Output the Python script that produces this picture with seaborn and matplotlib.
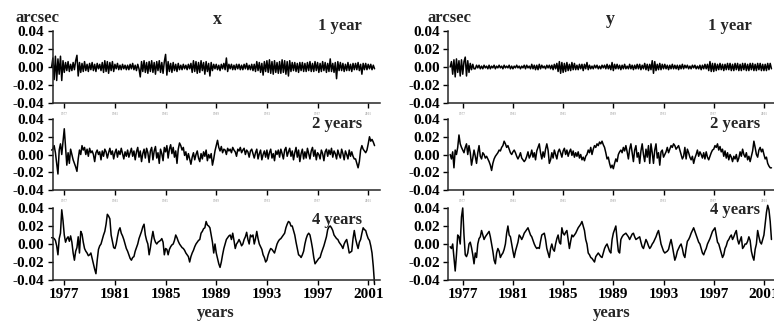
import numpy as np
import pandas as pd
import seaborn as sns
import matplotlib
matplotlib.use("Agg")
import matplotlib.pyplot as plt
from matplotlib.ticker import FixedLocator, FixedFormatter

# Residual pole-coordinate series (milliarcseconds), sampled 10 times per year from 1976.0
START_EPOCH = 1976.0
SAMPLES_PER_YEAR = 10
MAS_TO_ARCSEC = 1e-3

x_1yr = [
    0, 10, -14, 12, -15, 9, -8, 12, -15, 7,
    -6, 5, -4, 6, -5, 3, -4, 5, -3, 7,
    13, -10, 5, -6, 4, -5, 6, -4, 3, -5,
    4, -3, 5, -4, 3, -5, 4, -2, 3, -4,
    5, -6, 7, -5, 6, -7, 5, -4, 6, -5,
    3, -2, 4, -3, 2, -3, 3, -2, 2, -3,
    2, -3, 3, -2, 4, -3, 2, -4, 3, -2,
    -11, 6, -5, 7, -6, 5, -7, 6, -5, 7,
    -6, 5, -8, 6, -4, 7, -6, 5, -7, 6,
    14, -9, 6, -5, 4, -6, 5, -4, 3, -5,
    4, -3, 2, -3, 3, -2, 2, -3, 3, -2,
    4, -6, 7, -5, 6, -7, 5, -6, 7, -4,
    5, -8, 6, -5, 4, -10, 5, -4, 3, -2,
    3, -3, 2, -4, 3, -2, 4, -3, 10, -5,
    3, -2, 3, -3, 2, -3, 3, -2, 3, -3,
    2, -3, 3, -2, 4, -3, 2, -3, 3, -4,
    3, -5, 6, -4, 5, -6, 4, -9, 6, -5,
    7, -6, 8, -7, 6, -8, 7, -6, 5, -7,
    6, -7, 8, -6, 7, -8, 6, -10, 7, -5,
    5, -4, 5, -5, 4, -6, 5, -4, 5, -5,
    4, -5, 5, -4, 6, -5, 4, -5, 6, -4,
    5, -6, 4, -5, 6, -4, 5, -6, 4, -5,
    9, -5, 4, -6, 5, -13, 6, -4, 5, -4,
    4, -5, 3, -4, 5, -4, 3, -5, 4, -3,
    4, -3, 5, -4, 3, -8, 4, -3, 4, -3,
    3, -2, 3, -3, 2, -2,
]

x_2yr = [
    5, 6, 10, 2, -10, -22, 5, 12, 0, 15,
    29, 8, -12, 2, -10, 6, 0, -6, -10, -14,
    -19, -5, 5, 0, 10, 5, 8, 0, 6, -2,
    7, 2, 4, 0, -8, 2, 5, 0, 3, -6,
    4, -2, 6, 3, -4, 2, 7, 0, 4, -5,
    2, 6, -3, 4, 0, 7, 1, -5, 3, -2,
    5, -3, 2, 7, -2, 4, -6, 3, 8, -3,
    4, -8, 1, 6, -4, 7, 2, -9, 4, 8,
    -6, 4, 9, -4, 2, -10, 6, 1, -7, 8,
    3, 10, -4, 6, 11, 1, 8, -3, 4, -10,
    6, 13, 10, 5, 8, -1, 3, -6, 1, -5,
    -11, -3, 2, -6, 0, 4, -4, -8, 1, -5,
    3, -2, 5, -7, 0, -4, 1, -12, -5, 4,
    10, 16, 8, 4, 9, 2, 6, 5, 0, 7,
    4, 6, 2, 8, 5, 3, -2, 6, 4, 8,
    2, 5, 7, 0, 5, 3, -3, 4, 6, 1,
    -4, 2, 6, -5, 1, 5, -6, 0, 4, -3,
    5, -5, 2, 6, -4, 1, -7, 4, 0, 5,
    -3, 6, 1, -5, 5, 8, -2, 3, 7, -2,
    4, -6, 2, 8, -3, 5, -8, 1, 6, -5,
    3, -4, 7, 1, -5, 4, 8, -2, 5, -6,
    2, 0, -5, 5, 1, -7, 3, 6, -2, 5,
    0, 7, -3, 4, 1, -5, 5, 0, -4, 6,
    1, -6, 4, 0, -5, 5, -2, 3, -2, -5,
    -5, -10, -15, -8, 5, 10, 6, 4, 2, 5,
    12, 20, 15, 17, 14, 10,
]

x_4yr = [
    7, 7, 6, 4, -2, -12, 6, 12, 38, 26,
    10, 2, 6, 8, 3, 9, 2, -10, -18, -8,
    -4, 8, -10, 14, 11, 2, -5, -8, -10, -13,
    -12, -10, -16, -22, -28, -33, -18, -6, -2, 0,
    5, 10, 14, 22, 33, 31, 28, 10, 3, -4,
    -5, 0, 8, 15, 18, 12, 9, 5, 0, -5,
    -8, -12, -16, -18, -15, -14, -8, -4, 0, 6,
    10, 14, 19, 22, 10, 4, 0, -12, -4, 6,
    14, 6, 2, 0, 2, 3, 4, 6, 2, -12,
    -5, -6, -12, -6, -3, -1, 0, 4, 10, 7,
    3, 0, -2, -4, -5, -7, -10, -12, -14, -20,
    -14, -10, -7, -3, 0, 2, 4, 5, 12, 14,
    17, 18, 25, 21, 20, 18, 10, 2, -10, 0,
    -10, -16, -22, -26, -20, -12, -5, 0, 5, 7,
    9, 10, 5, 12, 4, -5, 0, 2, 5, 2,
    -2, 0, 5, 8, 13, 5, 0, 10, 8, 10,
    0, 6, 14, 6, 0, -3, -6, -12, -15, -20,
    -18, -12, -8, -5, -6, -8, -10, -5, 0, 3,
    5, 6, 8, 10, 12, 18, 22, 25, 24, 20,
    20, 15, 10, 2, -5, -12, -13, -15, -12, -8,
    0, 6, 10, 12, 10, 3, -5, -15, -22, -20,
    -18, -16, -15, -10, -6, -2, 3, 8, 16, 19,
    20, 18, 15, 10, 8, 6, 5, 2, 0, -2,
    -5, 0, 3, 5, -2, -10, -9, -8, 6, 15,
    6, 0, -5, 2, 5, 12, 18, 16, 15, 10,
    6, 4, -2, -10, -25, -45,
]

y_1yr = [
    0, 6, -8, 8, -11, 9, -6, 7, -10, 8,
    -8, 6, 11, -10, 7, -6, 4, -3, 3, -2,
    -2, 2, -1, 2, -2, 1, -2, 2, -1, 1,
    -2, 2, -2, 1, -1, 2, -2, 1, -1, 2,
    -1, 1, -2, 2, -1, 1, -1, 2, -2, 1,
    -2, 1, -1, 2, -1, 1, -2, 1, -1, 2,
    -2, 2, -1, 1, -2, 3, -2, 2, -3, 2,
    -3, 3, -2, 2, -1, 1, -2, 2, -1, 2,
    -2, 2, -3, 3, -2, 4, -5, 6, -7, 5,
    -6, 4, -5, 5, -4, 3, -4, 5, -3, 4,
    -3, 2, -3, 3, -2, 3, -4, 3, -2, 5,
    -3, 2, -2, 1, -2, 2, -1, 2, -2, 1,
    -2, 2, -1, 2, -2, 3, -2, 2, -3, 5,
    -4, 3, -2, 3, -2, 2, -3, 2, -2, 3,
    -2, 1, -2, 3, -2, 2, -3, 2, -2, 3,
    -2, 3, -3, 2, -2, 4, -3, 3, -4, 3,
    -3, 7, -7, 6, -4, 3, -3, 4, -3, 3,
    -2, 3, -2, 2, -3, 2, -2, 3, -2, 2,
    -2, 2, -3, 2, -2, 3, -2, 2, -1, 2,
    -2, 1, -2, 2, -1, 2, -2, 1, -2, 2,
    -3, 2, -2, 3, -2, 3, -4, 6, -5, 4,
    -5, 4, -4, 3, -3, 4, -3, 3, -4, 3,
    -3, 4, -3, 4, -4, 3, -4, 4, -3, 4,
    -4, 3, -4, 4, -3, 4, -4, 3, -4, 4,
    -3, 4, -4, 3, -4, 4, -3, 4, -4, 3,
    -4, 3, -4, 4, -3, 4, -2,
]

y_2yr = [
    0, -5, 3, -15, 5, 0, 8, 22, 12, 8,
    5, 2, 8, 12, 0, 10, 2, -12, -4, 5,
    -2, -10, 2, 10, -2, -5, 2, 0, -4, -2,
    -5, -8, -12, -18, -10, -5, -2, 0, 2, 5,
    4, 8, 10, 15, 12, 8, 10, 6, 2, 0,
    3, 5, 2, -2, -5, -2, 2, -4, -6, -8,
    -6, -2, 3, -4, -1, 5, -3, 2, -6, 4,
    8, 12, 2, -5, 3, -3, 6, 12, 5, -10,
    -6, 2, -4, 5, 0, -5, 3, 6, 2, -3,
    4, 7, 0, 5, -2, 3, 6, -1, 4, -3,
    2, -2, 3, -4, 0, -6, -3, -7, -2, 0,
    5, 2, 8, 0, 6, 10, 8, 12, 10, 14,
    12, 15, 11, 8, 2, -5, -3, -10, -15, -12,
    -16, -10, -5, -8, 0, 3, 5, 2, 8, 4,
    10, 3, -5, 6, 12, 2, -8, 5, 10, -3,
    2, -10, 4, 12, 0, -8, 6, -3, 10, -10,
    12, 2, -10, 5, 12, -4, 2, -12, 3, 5,
    -3, 0, 3, 8, 2, 6, 10, 8, 12, 10,
    6, 8, 10, 5, 0, -5, -2, 8, -5, 6,
    2, -3, -6, -2, -10, -4, 0, 5, -2, 3,
    0, -4, 2, -5, 3, -3, -6, -2, 2, 5,
    6, 10, 8, 12, 5, 9, 3, 6, -2, 4,
    -4, 2, -6, 0, -3, -8, -2, -5, 0, -8,
    -4, 3, -2, 6, 0, -3, 2, -6, -2, -8,
    -2, 4, 15, 8, 0, -3, 5, 8, 3, 6,
    0, -5, -3, -10, -13, -15, -15,
]

y_4yr = [
    -3, -5, 0, -15, -30, -12, 10, 8, 0, 30,
    40, 10, -12, -14, -10, 0, 2, -4, -12, -22,
    -10, -15, 0, 6, 8, 15, 10, 5, 8, 10,
    12, 14, 8, 0, -8, -18, -22, -10, -5, -8,
    -15, -12, -10, -6, 0, 12, 20, 10, 8, 0,
    -8, -15, -8, -3, 2, 10, 8, 5, 8, 12,
    14, 16, 18, 14, 10, 8, 4, 0, -3, -5,
    -4, -5, 3, 10, 11, 12, 5, -5, -10, -15,
    -5, 0, -6, -8, 0, 6, 10, 2, 0, 18,
    12, 10, 13, 15, 5, -5, 3, 10, 8, 10,
    12, 15, 18, 20, 22, 25, 20, 15, 5, 0,
    -10, -12, -15, -16, -18, -20, -14, -12, -10, -12,
    -14, -15, -10, -5, -2, 0, -4, -8, -10, 5,
    12, 16, 20, 5, -8, -10, 5, 8, 10, 11,
    12, 10, 8, 5, 8, 11, 12, 8, 5, 6,
    7, 8, 2, -3, -5, 0, 5, 2, -2, -5,
    -3, 0, 2, 5, 8, 12, 15, 8, 0, -4,
    -8, -10, -9, -8, -6, 0, 5, -2, -10, -18,
    -14, -8, -5, -2, 0, -5, -12, -15, -5, 3,
    5, 8, 12, 15, 18, 14, 10, 6, 2, 0,
    -5, -10, -12, -8, -5, 0, 3, 6, 10, 14,
    16, 18, 10, 2, 0, -5, -10, -15, -12, -5,
    -2, 3, 5, 8, 10, 5, 8, 12, 15, 5,
    0, 4, 8, -5, -3, 0, 0, 3, 8, 4,
    -8, -14, -18, -6, 0, 15, 8, 2, 0, 5,
    10, 22, 35, 43, 38, 25, 5,
]

components = ["x", "y"]
bands = ["1 year", "2 years", "4 years"]
series = {
    ("x", "1 year"): x_1yr, ("x", "2 years"): x_2yr, ("x", "4 years"): x_4yr,
    ("y", "1 year"): y_1yr, ("y", "2 years"): y_2yr, ("y", "4 years"): y_4yr,
}

year_ticks = [1977, 1981, 1985, 1989, 1993, 1997, 2001]
value_ticks = [-0.04, -0.02, 0.00, 0.02, 0.04]
value_tick_labels = ["-0.04", "-0.02", "0.00", "0.02", "0.04"]

frames = []
for (comp, band), vals in series.items():
    v = np.asarray(vals, dtype=float) * MAS_TO_ARCSEC
    epoch = START_EPOCH + np.arange(len(v)) / SAMPLES_PER_YEAR
    frames.append(pd.DataFrame({"epoch": epoch, "value": v,
                                "component": comp, "band": band}))
df = pd.concat(frames, ignore_index=True)

sns.set_theme(style="ticks")
plt.rcParams["font.family"] = ["Liberation Serif", "DejaVu Serif"]
plt.rcParams["font.weight"] = "bold"
plt.rcParams["axes.linewidth"] = 1.1

W, H = 774, 324
fig = plt.figure(figsize=(W / 100, H / 100), dpi=100)


def fx(px):
    return px / W


def fy(py):
    return 1 - py / H


# panel geometry in pixels: (left, width) per column, (top, bottom) per row
col_geom = {"x": (52.5, 327.5), "y": (448.3, 327.3)}
col_xlim = {"x": (1976.07, 2001.93), "y": (1975.85, 2001.93)}
row_geom = [(31, 103), (119, 190), (208, 280)]
label_pos = {
    ("x", 0): (362, 30), ("x", 1): (362, 127.5), ("x", 2): (362, 224),
    ("y", 0): (752, 30), ("y", 1): (760, 127.5), ("y", 2): (760, 214),
}

FS = 11
LABEL_FS = 12
for comp in components:
    left, width = col_geom[comp]
    for r, band in enumerate(bands):
        top, bottom = row_geom[r]
        ax = fig.add_axes([fx(left), fy(bottom), fx(width), (bottom - top) / H])
        sub = df[(df.component == comp) & (df.band == band)]
        sns.lineplot(data=sub, x="epoch", y="value", color="black",
                     linewidth=1.1, estimator=None, ax=ax)
        ax.lines[-1].set_clip_on(False)
        ax.set_xlim(*col_xlim[comp])
        ax.set_ylim(-0.04, 0.04)
        ax.set_xlabel("")
        ax.set_ylabel("")
        ax.yaxis.set_major_locator(FixedLocator(value_ticks))
        ax.yaxis.set_major_formatter(FixedFormatter(value_tick_labels))
        ax.xaxis.set_major_locator(FixedLocator(year_ticks))
        ax.xaxis.set_major_formatter(FixedFormatter([str(y) for y in year_ticks]))
        sns.despine(ax=ax)
        ax.tick_params(axis="both", direction="out", length=3.5, width=1.0,
                       colors="black", labelsize=FS, pad=2.5)
        for lab in ax.get_yticklabels() + ax.get_xticklabels():
            lab.set_fontweight("bold")
        if r < 2:
            ax.tick_params(axis="x", labelsize=2.5, labelcolor="#b8b8b8", pad=3)
        lx, ly = label_pos[(comp, r)]
        fig.text(fx(lx), fy(ly), band, ha="right", va="baseline",
                 fontsize=LABEL_FS, fontweight="bold")

# column headers, unit labels and the shared time axis label
fig.text(fx(16), fy(22.5), "arcsec", ha="left", va="baseline", fontsize=LABEL_FS, fontweight="bold")
fig.text(fx(428), fy(22.5), "arcsec", ha="left", va="baseline", fontsize=LABEL_FS, fontweight="bold")
fig.text(fx(217), fy(23.5), "x", ha="center", va="baseline", fontsize=LABEL_FS + 1, fontweight="bold")
fig.text(fx(610), fy(23.5), "y", ha="center", va="baseline", fontsize=LABEL_FS + 1, fontweight="bold")
fig.text(fx(216), fy(317), "years", ha="center", va="baseline", fontsize=LABEL_FS, fontweight="bold")
fig.text(fx(612), fy(317), "years", ha="center", va="baseline", fontsize=LABEL_FS, fontweight="bold")

fig.savefig("out.png", dpi=100)
